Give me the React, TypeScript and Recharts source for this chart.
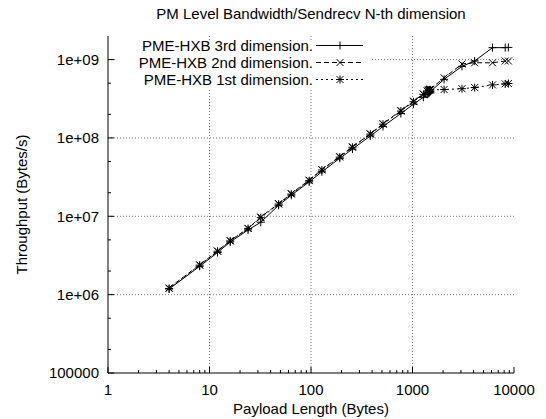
import React from "react";
import { LineChart, Line, XAxis, YAxis, ReferenceLine, Legend, Label } from "recharts";

const sizes = [4, 8, 12, 16, 24, 32, 48, 64, 96, 128, 192, 256, 384, 512, 768, 1024, 1280, 1400, 1440, 1472, 1500, 2048, 3072, 4096, 6144, 8192, 8800];
const dim3 = [1.18e6, 2.3e6, 3.45e6, 4.7e6, 6.7e6, 8.4e6, 1.38e7, 1.86e7, 2.75e7, 3.7e7, 5.5e7, 7.2e7, 1.06e8, 1.4e8, 2.05e8, 2.7e8, 3.3e8, 3.6e8, 3.7e8, 3.8e8, 3.9e8, 5.6e8, 8.2e8, 9.6e8, 1.42e9, 1.42e9, 1.43e9];
const dim2 = [1.22e6, 2.4e6, 3.6e6, 4.9e6, 7.0e6, 9.8e6, 1.45e7, 1.95e7, 2.9e7, 3.95e7, 5.8e7, 7.7e7, 1.13e8, 1.52e8, 2.24e8, 2.95e8, 3.65e8, 4.0e8, 4.1e8, 4.15e8, 4.2e8, 5.85e8, 8.8e8, 9.1e8, 9.1e8, 9.6e8, 9.6e8];
const dim1 = [1.2e6, 2.38e6, 3.58e6, 4.85e6, 7.0e6, 9.6e6, 1.43e7, 1.92e7, 2.85e7, 3.9e7, 5.7e7, 7.6e7, 1.12e8, 1.5e8, 2.2e8, 2.9e8, 3.6e8, 3.95e8, 4.05e8, 4.1e8, 4.1e8, 4.15e8, 4.25e8, 4.4e8, 4.75e8, 4.9e8, 4.95e8];

const seriesNames = ["PME-HXB 3rd dimension.", "PME-HXB 2nd dimension.", "PME-HXB 1st dimension."];
const title = "PM Level Bandwidth/Sendrecv N-th dimension";
const xTitle = "Payload Length (Bytes)";
const yTitle = "Throughput (Bytes/s)";

const xMajor = [1, 10, 100, 1000, 10000];
const xLabels = ["1", "10", "100", "1000", "10000"];
const xTicks = [1, 2, 3, 4, 5, 6, 7, 8, 9, 10, 20, 30, 40, 50, 60, 70, 80, 90, 100, 200, 300, 400, 500, 600, 700, 800, 900, 1000, 2000, 3000, 4000, 5000, 6000, 7000, 8000, 9000, 10000];
const yMajor = [1e5, 1e6, 1e7, 1e8, 1e9];
const yLabels = ["100000", "1e+06", "1e+07", "1e+08", "1e+09"];
const yTicks = [1e5, 2e5, 5e5, 1e6, 2e6, 5e6, 1e7, 2e7, 5e7, 1e8, 2e8, 5e8, 1e9];
const xGrid = [10, 100, 1000];
const yGrid = [1e6, 1e7, 1e8, 1e9];

const data = sizes.map((s, i) => ({ size: s, d3: dim3[i], d2: dim2[i], d1: dim1[i] }));

const FONT = "'Liberation Sans', Arial, Helvetica, sans-serif";
const FS = 15;
const ROW = 17;

const PlusMark = ({ cx, cy }: any) => (
  <g stroke="#000" strokeWidth={1}>
    <line x1={cx - 4} x2={cx + 4} y1={cy} y2={cy} />
    <line x1={cx} x2={cx} y1={cy - 4} y2={cy + 4} />
  </g>
);
const XMark = ({ cx, cy }: any) => (
  <g stroke="#000" strokeWidth={1}>
    <line x1={cx - 3.5} x2={cx + 3.5} y1={cy - 3.5} y2={cy + 3.5} />
    <line x1={cx - 3.5} x2={cx + 3.5} y1={cy + 3.5} y2={cy - 3.5} />
  </g>
);
const StarMark = ({ cx, cy }: any) => (
  <g stroke="#000" strokeWidth={1}>
    <line x1={cx - 4} x2={cx + 4} y1={cy} y2={cy} />
    <line x1={cx} x2={cx} y1={cy - 4} y2={cy + 4} />
    <line x1={cx - 3.5} x2={cx + 3.5} y1={cy - 3.5} y2={cy + 3.5} />
    <line x1={cx - 3.5} x2={cx + 3.5} y1={cy + 3.5} y2={cy - 3.5} />
  </g>
);

const marks = [PlusMark, XMark, StarMark];
const dashes = [undefined, "5 3", "2 3"];

const makeDot = (M: any) => (p: any) => {
  if (p.cx == null || p.cy == null) return <g key={p.index} />;
  return <M key={p.index} cx={p.cx} cy={p.cy} />;
};

const XTickBottom = ({ x, y, payload }: any) => {
  const idx = xMajor.indexOf(payload.value);
  const major = idx >= 0;
  return (
    <g>
      <line x1={x} x2={x} y1={y} y2={y - (major ? 6 : 3)} stroke="#000" />
      {major && (
        <text x={x} y={y + 22} textAnchor="middle" fontFamily={FONT} fontSize={FS} fill="#000">
          {xLabels[idx]}
        </text>
      )}
    </g>
  );
};
const XTickTop = ({ x, y, payload }: any) => {
  const major = xMajor.indexOf(payload.value) >= 0;
  return <line x1={x} x2={x} y1={y} y2={y + (major ? 6 : 3)} stroke="#000" />;
};
const YTickLeft = ({ x, y, payload }: any) => {
  const idx = yMajor.indexOf(payload.value);
  const major = idx >= 0;
  return (
    <g>
      <line x1={x} x2={x + (major ? 6 : 3)} y1={y} y2={y} stroke="#000" />
      {major && (
        <text x={x - 9} y={y} dy="0.35em" textAnchor="end" fontFamily={FONT} fontSize={FS} fill="#000">
          {yLabels[idx]}
        </text>
      )}
    </g>
  );
};
const YTickRight = ({ x, y, payload }: any) => {
  const major = yMajor.indexOf(payload.value) >= 0;
  return <line x1={x} x2={x - (major ? 6 : 3)} y1={y} y2={y} stroke="#000" />;
};

const LegendContent = () => (
  <div style={{ background: "linear-gradient(to bottom, rgba(255,255,255,0) 5px, #fff 5px)", width: 254 }}>
    {seriesNames.map((n, i) => {
      const M = marks[i];
      return (
        <div key={n} style={{ display: "flex", alignItems: "center", height: ROW }}>
          <span style={{ width: 197, textAlign: "right", fontFamily: FONT, fontSize: FS, lineHeight: `${ROW}px`, height: ROW, color: "#000", whiteSpace: "nowrap" }}>{n}</span>
          <svg width={57} height={ROW} style={{ display: "block" }}>
            <line x1={3} x2={50} y1={ROW / 2} y2={ROW / 2} stroke="#000" strokeDasharray={dashes[i]} />
            <M cx={27} cy={ROW / 2} />
          </svg>
        </div>
      );
    })}
  </div>
);

export default function App() {
  return (
    <div style={{ position: "absolute", left: 0, top: 0, width: 546, height: 419, background: "#fff" }}>
      <div
        style={{
          position: "absolute",
          left: 108,
          top: 6,
          width: 406,
          textAlign: "center",
          fontFamily: FONT,
          fontSize: FS,
          lineHeight: "15px",
          color: "#000",
          whiteSpace: "nowrap",
          zIndex: 2,
        }}
      >
        {title}
      </div>
      <LineChart width={546} height={419} data={data} margin={{ top: 36, right: 32, bottom: 0, left: 0 }}>
        <XAxis
          xAxisId="b"
          dataKey="size"
          type="number"
          scale="log"
          domain={[1, 10000]}
          ticks={xTicks}
          interval={0}
          tickSize={0}
          tickMargin={0}
          tickLine={false}
          tick={<XTickBottom />}
          height={46}
          axisLine={{ stroke: "#000" }}
          allowDataOverflow
        >
          <Label value={xTitle} position="insideBottom" offset={5} style={{ fontFamily: FONT, fontSize: FS, fill: "#000" }} />
        </XAxis>
        <XAxis
          xAxisId="t"
          orientation="top"
          dataKey="size"
          type="number"
          scale="log"
          domain={[1, 10000]}
          ticks={xTicks}
          interval={0}
          tickSize={0}
          tickMargin={0}
          tickLine={false}
          tick={<XTickTop />}
          height={0}
          axisLine={{ stroke: "#000" }}
          allowDataOverflow
        />
        <YAxis
          yAxisId="l"
          type="number"
          scale="log"
          domain={[1e5, 2e9]}
          ticks={yTicks}
          interval={0}
          tickSize={0}
          tickMargin={0}
          tickLine={false}
          tick={<YTickLeft />}
          width={108}
          axisLine={{ stroke: "#000" }}
          allowDataOverflow
        >
          <Label
            content={(props: any) => {
              const vb = props.viewBox || { x: 0, y: 36, height: 337 };
              const cx = vb.x + 21;
              const cy = vb.y + vb.height / 2;
              return (
                <text x={cx} y={cy} transform={`rotate(-90, ${cx}, ${cy})`} textAnchor="middle" dominantBaseline="central" fontFamily={FONT} fontSize={FS} fill="#000">
                  {yTitle}
                </text>
              );
            }}
          />
        </YAxis>
        <YAxis
          yAxisId="r"
          orientation="right"
          type="number"
          scale="log"
          domain={[1e5, 2e9]}
          ticks={yTicks}
          interval={0}
          tickSize={0}
          tickMargin={0}
          tickLine={false}
          tick={<YTickRight />}
          width={0}
          axisLine={{ stroke: "#000" }}
          allowDataOverflow
        />
        {xGrid.map((v) => (
          <ReferenceLine key={"gx" + v} xAxisId="b" yAxisId="l" x={v} stroke="#777" strokeDasharray="1 2" />
        ))}
        {yGrid.map((v) => (
          <ReferenceLine key={"gy" + v} xAxisId="b" yAxisId="l" y={v} stroke="#777" strokeDasharray="1 2" />
        ))}
        <Line xAxisId="b" yAxisId="l" dataKey="d3" stroke="#000" strokeWidth={1} dot={makeDot(PlusMark)} activeDot={false} isAnimationActive={false} />
        <Line xAxisId="b" yAxisId="l" dataKey="d2" stroke="#000" strokeWidth={1} strokeDasharray="5 3" dot={makeDot(XMark)} activeDot={false} isAnimationActive={false} />
        <Line xAxisId="b" yAxisId="l" dataKey="d1" stroke="#000" strokeWidth={1} strokeDasharray="2 3" dot={makeDot(StarMark)} activeDot={false} isAnimationActive={false} />
        <Legend
          layout="vertical"
          align="center"
          verticalAlign="middle"
          content={<LegendContent />}
          wrapperStyle={{ position: "absolute", left: 116, top: 37, width: 254, height: ROW * 3 }}
        />
      </LineChart>
    </div>
  );
}
